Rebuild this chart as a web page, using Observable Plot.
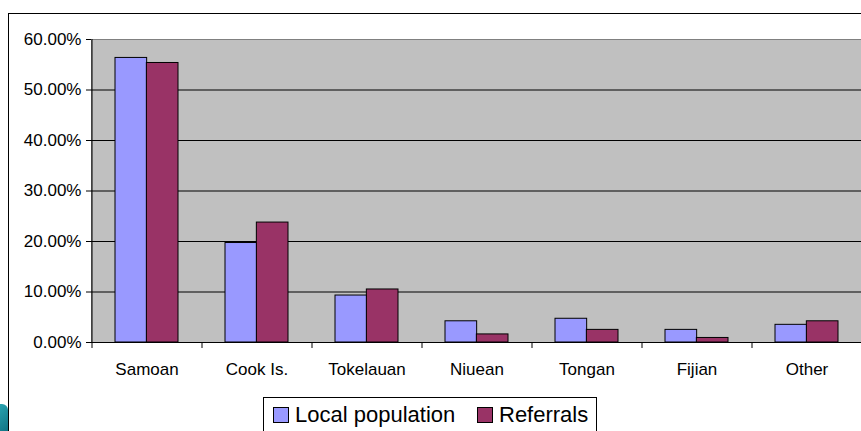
<!DOCTYPE html>
<html>
<head>
<meta charset="utf-8">
<script src="https://cdn.jsdelivr.net/npm/d3@7"></script>
<script src="https://cdn.jsdelivr.net/npm/@observablehq/plot@0.6"></script>
<style>
  html, body { margin: 0; padding: 0; background: #fff; }
  #wrap { position: relative; width: 861px; height: 431px; overflow: hidden; font-family: "Liberation Sans", Arial, sans-serif; }
  #frame { position: absolute; left: 8px; top: 13px; width: 900px; height: 500px; border-left: 1px solid #000; border-top: 1px solid #000; box-sizing: border-box; }
  #deco { position: absolute; left: 0; top: 404px; width: 8px; height: 30px; background: linear-gradient(135deg, #2aa3b0, #0e6f80); border-top-right-radius: 6px; }
  #chart { position: absolute; left: 0; top: 0; }
  #legend { position: absolute; left: 263px; top: 397px; width: 334px; height: 60px; border: 1px solid #000; box-sizing: border-box; background: #fff; }
  .item { position: absolute; top: 4px; display: flex; align-items: center; font-size: 22px; color: #000; white-space: nowrap; }
  .sw { width: 14px; height: 14px; border: 1px solid #000; margin-right: 6px; }
</style>
</head>
<body>
<div id="wrap">
  <div id="frame"></div>
  <div id="deco"></div>
  <div id="chart"></div>
  <div id="legend"></div>
</div>
<script>
const categories = ["Samoan", "Cook Is.", "Tokelauan", "Niuean", "Tongan", "Fijian", "Other"];
const seriesNames = ["Local population", "Referrals"];
const localPopulation = [0.5635, 0.197, 0.093, 0.042, 0.047, 0.025, 0.035];
const referrals = [0.5535, 0.2375, 0.105, 0.016, 0.025, 0.009, 0.042];
const yTicks = [0, 0.1, 0.2, 0.3, 0.4, 0.5, 0.6];
const colors = ["#9999FF", "#993366"];

const W = 861, H = 431, mL = 91, mR = 0, mT = 39, mB = 89;
const pad = 0.43;
const step = (W - mL - mR) / categories.length;

const localData = categories.map((c, i) => ({category: c, series: seriesNames[0], value: localPopulation[i]}));
const refData = categories.map((c, i) => ({category: c, series: seriesNames[1], value: referrals[i]}));
const half = step * (1 - pad) / 2;

const chart = Plot.plot({
  width: W, height: H,
  marginLeft: mL, marginRight: mR, marginTop: mT, marginBottom: mB,
  style: {fontFamily: "'Liberation Sans', Arial, sans-serif", fontSize: "17px", color: "#000", background: "transparent"},
  x: {domain: categories, paddingInner: pad, paddingOuter: pad / 2, axis: null},
  y: {domain: [0, 0.6], axis: null},
  color: {domain: seriesNames, range: colors},
  marks: [
    Plot.frame({fill: "#C0C0C0", stroke: "#808080"}),
    Plot.gridY(yTicks.filter(d => d > 0 && d < 0.6), {stroke: "#000", strokeOpacity: 1}),
    Plot.barY(localData, {x: "category", y: "value", fill: "series", stroke: "#000", strokeWidth: 1, insetRight: half}),
    Plot.barY(refData, {x: "category", y: "value", fill: "series", stroke: "#000", strokeWidth: 1, insetLeft: half}),
    Plot.ruleY([0], {stroke: "#000"}),
    Plot.ruleX([categories[0]], {x: d => d, dx: -step / 2, stroke: "#000"}),
    Plot.axisY({ticks: yTicks, tickFormat: d3.format(".2%"), tickSize: 5, tickPadding: 5, label: null, stroke: "#000", fontSize: 17}),
    Plot.axisX({ticks: categories, tickSize: 6, tickFormat: () => "", dx: -step / 2, label: null, stroke: "#000"}),
    Plot.axisX({ticks: categories, tickSize: 0, tickPadding: 20, label: null, fontSize: 17})
  ]
});
document.getElementById("chart").appendChild(chart);

const legend = document.getElementById("legend");
const positions = [9, 213];
seriesNames.forEach((s, i) => {
  const it = document.createElement("div");
  it.className = "item";
  it.style.left = positions[i] + "px";
  const sw = document.createElement("div");
  sw.className = "sw";
  sw.style.background = colors[i];
  it.appendChild(sw);
  it.appendChild(document.createTextNode(s));
  legend.appendChild(it);
});
</script>
</body>
</html>
